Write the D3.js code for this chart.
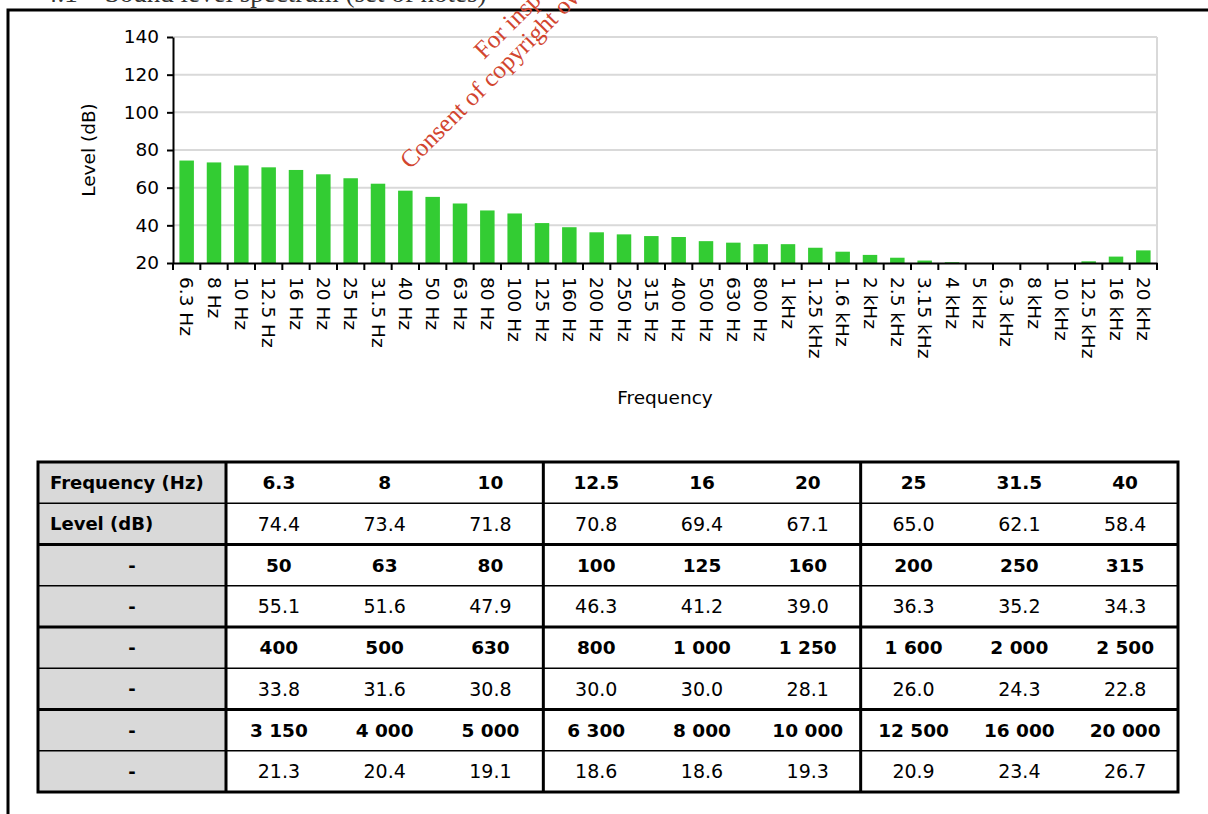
<!DOCTYPE html>
<html><head><meta charset="utf-8">
<script src="https://cdn.jsdelivr.net/npm/d3@7"></script>
<style>body{margin:0;background:#fff;overflow:hidden}</style>
</head><body>
<script>
// ---- data ----
const chartLabels = ["6.3 Hz","8 Hz","10 Hz","12.5 Hz","16 Hz","20 Hz","25 Hz","31.5 Hz","40 Hz","50 Hz","63 Hz","80 Hz","100 Hz","125 Hz","160 Hz","200 Hz","250 Hz","315 Hz","400 Hz","500 Hz","630 Hz","800 Hz","1 kHz","1.25 kHz","1.6 kHz","2 kHz","2.5 kHz","3.15 kHz","4 kHz","5 kHz","6.3 kHz","8 kHz","10 kHz","12.5 kHz","16 kHz","20 kHz"];
const tableFreqs = ["6.3","8","10","12.5","16","20","25","31.5","40","50","63","80","100","125","160","200","250","315","400","500","630","800","1 000","1 250","1 600","2 000","2 500","3 150","4 000","5 000","6 300","8 000","10 000","12 500","16 000","20 000"];
const levels = [74.4,73.4,71.8,70.8,69.4,67.1,65.0,62.1,58.4,55.1,51.6,47.9,46.3,41.2,39.0,36.3,35.2,34.3,33.8,31.6,30.8,30.0,30.0,28.1,26.0,24.3,22.8,21.3,20.4,19.1,18.6,18.6,19.3,20.9,23.4,26.7];
const yTicks = [20,40,60,80,100,120,140];
const rowLabels = ["Frequency (Hz)","Level (dB)","-","-","-","-","-","-"];
const watermark = ["For inspection purposes only.","Consent of copyright owner required for any other use."];

const W = 1208, H = 814;
const svg = d3.select("body").append("svg").attr("width", W).attr("height", H)
  .style("font-family", "'DejaVu Sans', Verdana, sans-serif");

// cut-off heading and page frame
svg.append("text").attr("x", 44).attr("y", 2).attr("font-family", "'Liberation Serif', serif")
  .attr("font-size", 27).attr("fill", "#333").attr("xml:space", "preserve")
  .text("4.1    Sound level spectrum (set of notes)");
svg.append("path").attr("d", `M8,${H+5} L8,10 L${W+5},10`).attr("fill", "none")
  .attr("stroke", "#000").attr("stroke-width", 3);

// ---- chart ----
const x = d3.scaleBand().domain(chartLabels).range([173, 1157]).padding(0);
const y = d3.scaleLinear().domain([20, 140]).range([263, 37]);
const g = svg.append("g");

g.selectAll("line.grid").data(yTicks.filter(t => t > 20)).join("line")
  .attr("x1", x.range()[0]).attr("x2", x.range()[1])
  .attr("y1", d => y(d)).attr("y2", d => y(d))
  .attr("stroke", "#d9d9d9").attr("stroke-width", 2);
g.append("line").attr("x1", x.range()[1]).attr("x2", x.range()[1])
  .attr("y1", y(140)).attr("y2", y(20)).attr("stroke", "#d9d9d9").attr("stroke-width", 2);

const bw = x.bandwidth(), barW = bw * 0.53;
g.selectAll("rect.bar").data(chartLabels.map((c, i) => ({c, v: levels[i]})).filter(d => d.v > 20)).join("rect")
  .attr("x", d => x(d.c) + (bw - barW) / 2).attr("width", barW)
  .attr("y", d => y(d.v)).attr("height", d => y(20) - y(d.v))
  .attr("fill", "#33cc33");

// y axis
const ya = g.append("g").attr("transform", `translate(${x.range()[0]},0)`)
  .call(d3.axisLeft(y).tickValues(yTicks).tickSize(6).tickSizeOuter(0).tickPadding(8));
ya.select(".domain").attr("stroke", "#000").attr("stroke-width", 2);
ya.selectAll(".tick line").attr("stroke", "#000").attr("stroke-width", 2);
ya.selectAll("text").attr("font-size", 18.5).attr("fill", "#000").attr("font-family", "'DejaVu Sans', sans-serif");

// x axis
const xa = g.append("g").attr("transform", `translate(0,${y(20)})`)
  .call(d3.axisBottom(x).tickSize(0).tickSizeOuter(0));
xa.select(".domain").attr("stroke", "#000").attr("stroke-width", 2);
xa.selectAll("text").attr("font-size", 18.5).attr("fill", "#000").attr("font-family", "'DejaVu Sans', sans-serif")
  .attr("transform", "rotate(90)").attr("x", 14).attr("y", 0).attr("dy", "0.35em").attr("text-anchor", "start");
const bounds = chartLabels.map(c => x(c)).concat([x.range()[1]]);
g.selectAll("line.xtick").data(bounds).join("line")
  .attr("x1", d => d).attr("x2", d => d).attr("y1", y(20)).attr("y2", y(20) + 7)
  .attr("stroke", "#000").attr("stroke-width", 2);

g.append("text").attr("transform", `translate(95,${(y(140) + y(20)) / 2}) rotate(-90)`)
  .attr("text-anchor", "middle").attr("font-size", 18.5).text("Level (dB)");
g.append("text").attr("x", 665).attr("y", 404).attr("text-anchor", "middle")
  .attr("font-size", 18.5).text("Frequency");

// ---- table ----
const tx0 = 38, tc0 = 226, tx1 = 1178, ty0 = 462, ty1 = 792;
const nCols = 9, nRows = 8;
const cw = (tx1 - tc0) / nCols, rh = (ty1 - ty0) / nRows;
const t = svg.append("g");
t.append("rect").attr("x", tx0).attr("y", ty0).attr("width", tc0 - tx0).attr("height", ty1 - ty0).attr("fill", "#d9d9d9");
d3.range(1, nRows).forEach(r => {
  t.append("line").attr("x1", tx0).attr("x2", tx1).attr("y1", ty0 + r * rh).attr("y2", ty0 + r * rh)
    .attr("stroke", "#000").attr("stroke-width", r % 2 === 0 ? 3 : 1.5);
});
[tc0, tc0 + 3 * cw, tc0 + 6 * cw].forEach(xx => {
  t.append("line").attr("x1", xx).attr("x2", xx).attr("y1", ty0).attr("y2", ty1).attr("stroke", "#000").attr("stroke-width", 3);
});
t.append("rect").attr("x", tx0).attr("y", ty0).attr("width", tx1 - tx0).attr("height", ty1 - ty0)
  .attr("fill", "none").attr("stroke", "#000").attr("stroke-width", 3);

rowLabels.forEach((lab, r) => {
  t.append("text").attr("x", r < 2 ? 50 : (tx0 + tc0) / 2).attr("y", ty0 + (r + 0.5) * rh).attr("dy", "0.36em")
    .attr("text-anchor", r < 2 ? "start" : "middle").attr("font-size", 18).attr("font-weight", "bold").text(lab);
});
tableFreqs.forEach((f, i) => {
  const blk = Math.floor(i / nCols), c = i % nCols;
  const cx = tc0 + (c + 0.5) * cw;
  t.append("text").attr("x", cx).attr("y", ty0 + (blk * 2 + 0.5) * rh).attr("dy", "0.36em")
    .attr("text-anchor", "middle").attr("font-size", 18.5).attr("font-weight", "bold").text(f);
  t.append("text").attr("x", cx).attr("y", ty0 + (blk * 2 + 1.5) * rh).attr("dy", "0.36em")
    .attr("text-anchor", "middle").attr("font-size", 19).text(levels[i].toFixed(1));
});

// ---- watermark ----
const wm = svg.append("g").attr("font-family", "'Liberation Serif', 'Times New Roman', serif")
  .attr("font-size", 25).attr("fill", "#d2452f");
wm.append("text").attr("transform", "translate(484,60) rotate(-45)").text(watermark[0]);
wm.append("text").attr("transform", "translate(410,170) rotate(-45)").text(watermark[1]);
</script>
</body></html>
